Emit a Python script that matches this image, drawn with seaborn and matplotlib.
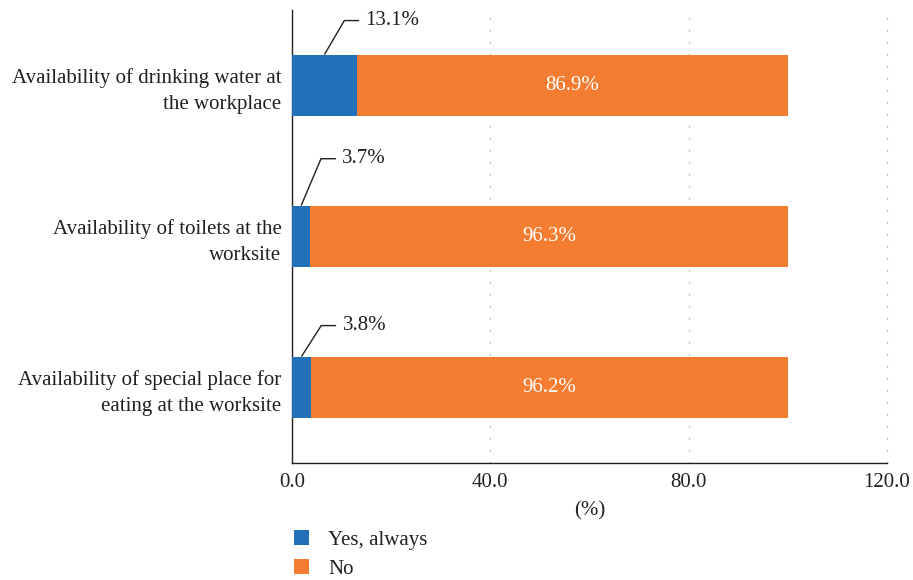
import matplotlib
matplotlib.use("Agg")
import matplotlib.pyplot as plt
import seaborn as sns
import pandas as pd
from matplotlib.patches import Patch

categories = ["Availability of drinking water at\nthe workplace",
              "Availability of toilets at the\nworksite",
              "Availability of special place for\neating at the worksite"]
yes_vals = [13.1, 3.7, 3.8]
no_vals = [86.9, 96.3, 96.2]
series_names = ["Yes, always", "No"]
xticks = [0.0, 40.0, 80.0, 120.0]

# callout leader-line rise above each bar (in category units) – layout only
leader_rise = [0.225, 0.31, 0.205]

BLUE = "#2271B8"
ORANGE = "#F47D31"
TXT = "#231F20"
FS = 15

sns.set_theme(style="white")
plt.rcParams['font.family'] = ['Liberation Serif', 'DejaVu Serif']

df = pd.DataFrame({"cat": categories, "yes": yes_vals, "no": no_vals})
df["total"] = df["yes"] + df["no"]

fig = plt.figure(figsize=(9.13, 5.8), dpi=100)
ax = fig.add_axes([292/913, 1-463/580, (887-292)/913, (463-10)/580])

sns.barplot(data=df, x="total", y="cat", orient="h", color=ORANGE, width=0.41,
            saturation=1, ax=ax, zorder=3, linewidth=0)
sns.barplot(data=df, x="yes", y="cat", orient="h", color=BLUE, width=0.41,
            saturation=1, ax=ax, zorder=4, linewidth=0)

ax.set_xlim(0, 120)
ax.set_ylim(2.5, -0.5)
ax.set_xticks(xticks)
ax.set_xticklabels([f"{v:.1f}" for v in xticks], fontsize=FS, color=TXT)
ax.tick_params(axis="both", length=0)
ax.tick_params(axis="y", pad=7.5)
ax.tick_params(axis="x", pad=7)
for lbl in ax.get_yticklabels():
    lbl.set_fontsize(FS)
    lbl.set_color(TXT)
    lbl.set_linespacing(1.5)
ax.set_ylabel("")
ax.set_xlabel("(%)", fontsize=FS, color=TXT, labelpad=6.5)

for s in ["top", "right"]:
    ax.spines[s].set_visible(False)
for s in ["left", "bottom"]:
    ax.spines[s].set_color(TXT)
    ax.spines[s].set_linewidth(1.0)

for xv in xticks[1:]:
    ax.axvline(xv, color="#9a9a9a", linestyle=(0, (1.05, 8.55)), linewidth=0.9, zorder=1,
               clip_on=False)

half = 0.41 / 2
for i, (y, n) in enumerate(zip(yes_vals, no_vals)):
    ax.text(y + n / 2, i, f"{n:.1f}%", ha="center", va="center", color="white",
            fontsize=FS, zorder=5)
    x0 = y / 2
    ytop = i - half
    x1 = x0 + 4.0
    y1 = ytop - leader_rise[i]
    x2 = x1 + 3.0
    ax.plot([x0, x1, x2], [ytop, y1, y1], color=TXT, linewidth=1.0,
            zorder=6, clip_on=False, solid_capstyle="butt")
    ax.text(x2 + 1.3, y1, f"{y:.1f}%", ha="left", va="center", color=TXT,
            fontsize=FS, zorder=6)

handles = [Patch(facecolor=BLUE, edgecolor="none"), Patch(facecolor=ORANGE, edgecolor="none")]
fig.legend(handles, series_names, loc="upper left", bbox_to_anchor=(294/913, 1-530/580),
           frameon=False, fontsize=FS, handlelength=0.7, handleheight=0.7,
           handletextpad=0.95, labelspacing=0.46, labelcolor=TXT,
           borderpad=0, borderaxespad=0)

fig.savefig("out.png", dpi=100)
